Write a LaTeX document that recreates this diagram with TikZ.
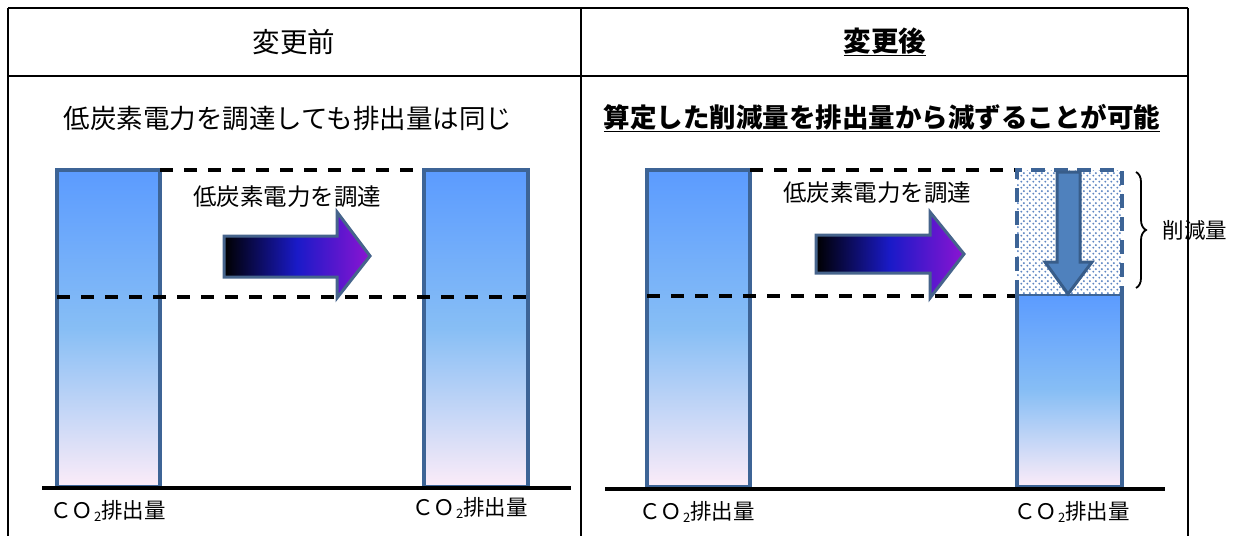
\documentclass[tikz,border=0pt]{standalone}
\usepackage{fontspec}
\setmainfont{Noto Sans CJK JP}
\usetikzlibrary{patterns,decorations.pathreplacing}
\pgfdeclarepatternformonly{stagdots}{\pgfpointorigin}{\pgfpoint{6pt}{6pt}}{\pgfpoint{6pt}{6pt}}{%
  \pgfpathcircle{\pgfpoint{1.5pt}{1.5pt}}{1.2pt}%
  \pgfpathcircle{\pgfpoint{4.5pt}{4.5pt}}{1.2pt}%
  \pgfusepath{fill}}
\definecolor{barborder}{RGB}{61,100,150}
\definecolor{bartop}{RGB}{91,155,255}
\definecolor{barmid}{RGB}{135,190,245}
\definecolor{barbot}{RGB}{252,236,248}
\definecolor{arrblue}{RGB}{26,26,200}
\definecolor{arrviolet}{RGB}{140,20,210}
\definecolor{arrborder}{RGB}{70,100,140}
\definecolor{downfill}{RGB}{79,129,189}
\definecolor{downborder}{RGB}{56,93,138}
\definecolor{dotcol}{RGB}{95,135,195}
\tikzset{
  frame/.style={line width=2pt,black},
  base/.style={line width=4.5pt,black},
  bar/.style={draw=barborder,line width=3.2pt,top color=bartop,bottom color=barbot,middle color=barmid},
  guide/.style={line width=3.6pt,black,dash pattern=on 13pt off 11pt},
  rarrow/.style={draw=arrborder,line width=3pt,left color=black,right color=arrviolet,middle color=arrblue,shading angle=90},
  lbl/.style={font=\fontsize{23.5}{25}\selectfont,inner sep=0pt},
  colbl/.style={font=\fontsize{21.5}{23}\selectfont,inner sep=0pt},
}
\newcommand{\cotwo}{ＣＯ\hspace{1pt}{\fontsize{13}{13}\selectfont\raisebox{-3pt}{2}}排出量}
\begin{document}
\begin{tikzpicture}[x=1pt,y=-1pt]
\useasboundingbox (0,0) rectangle (1241,536);
% table frame
\coordinate (tl) at (8,8); \coordinate (tr) at (1188,8);
\coordinate (bl) at (8,536); \coordinate (br) at (1188,536);
\coordinate (tm) at (581,8); \coordinate (bm) at (581,536);
\coordinate (dl) at (8,76); \coordinate (dr) at (1188,76);
\draw[frame] (tl) -- (tr);
\draw[frame] (tl) -- (bl);
\draw[frame] (tm) -- (bm);
\draw[frame] (tr) -- (br);
\draw[frame] (dl) -- (dr);
% titles
\node[font=\fontsize{27.5}{29}\selectfont,inner sep=0pt] (t1) at (294,42) {変更前};
\node[font=\fontsize{27.5}{29}\selectfont\bfseries,inner sep=0pt] (t2) at (885,42) {\underline{変更後}};
\node[font=\fontsize{26.5}{28}\selectfont,inner sep=0pt] (s1) at (288,118) {低炭素電力を調達しても排出量は同じ};
\node[font=\fontsize{26.5}{28}\selectfont\bfseries,inner sep=0pt] (s2) at (882,118) {\underline{算定した削減量を排出量から減ずることが可能}};

% ===== left panel =====
\shadedraw[bar] (57,170) rectangle (160,487);
\shadedraw[bar] (424,170) rectangle (528,487);
\coordinate (la) at (160,170); \coordinate (lb) at (424,170);
\draw[guide] (la) -- (lb);
\coordinate (lc) at (57,297); \coordinate (ld) at (528,297);
\draw[guide] (lc) -- (ld);
\node[lbl] (lt) at (287,197) {低炭素電力を調達};
\shadedraw[rarrow] (224,236) -- (337,236) -- (337,212) -- (370,256) -- (337,298) -- (337,277) -- (224,277) -- cycle;
\coordinate (lbase1) at (42,488); \coordinate (lbase2) at (571,488);
\draw[base] (lbase1) -- (lbase2);
\node[colbl] (lco1) at (108,511) {\cotwo};
\node[colbl] (lco2) at (470,508) {\cotwo};

% ===== right panel =====
\shadedraw[bar] (647,170) rectangle (750,487);
\shadedraw[bar] (1017,294) rectangle (1122,487);
\fill[white] (1017,170) rectangle (1122,294);
\fill[pattern=stagdots,pattern color=dotcol] (1017,170) rectangle (1122,294);
\draw[draw=barborder,line width=3.2pt,dash pattern=on 14pt off 9pt] (1017,294) -- (1017,170) -- (1122,170) -- (1122,294);
\coordinate (ra) at (750,170); \coordinate (rb) at (1015,170);
\draw[guide] (ra) -- (rb);
\coordinate (rc) at (647,296); \coordinate (rd) at (1015,296);
\draw[guide] (rc) -- (rd);
\node[lbl] (rt) at (877,193) {低炭素電力を調達};
\shadedraw[rarrow] (816,235) -- (930,235) -- (930,212) -- (964,254) -- (930,298) -- (930,273) -- (816,273) -- cycle;
% down arrow
\filldraw[fill=downfill,draw=downborder,line width=3pt] (1057,172) -- (1080,172) -- (1080,262) -- (1092,262) -- (1068,294) -- (1045,262) -- (1057,262) -- cycle;
% brace
\coordinate (bra) at (1136,172); \coordinate (brb) at (1136,288);
\draw[line width=1.8pt,decorate,decoration={brace,amplitude=10pt}] (bra) -- (brb);
\coordinate (rbase1) at (605,489); \coordinate (rbase2) at (1165,489);
\draw[base] (rbase1) -- (rbase2);
\node[colbl] (rco1) at (697,512) {\cotwo};
\node[colbl] (rco2) at (1072,512) {\cotwo};
\node[colbl] (red) at (1195,230) {削減量};
\end{tikzpicture}
\end{document}
